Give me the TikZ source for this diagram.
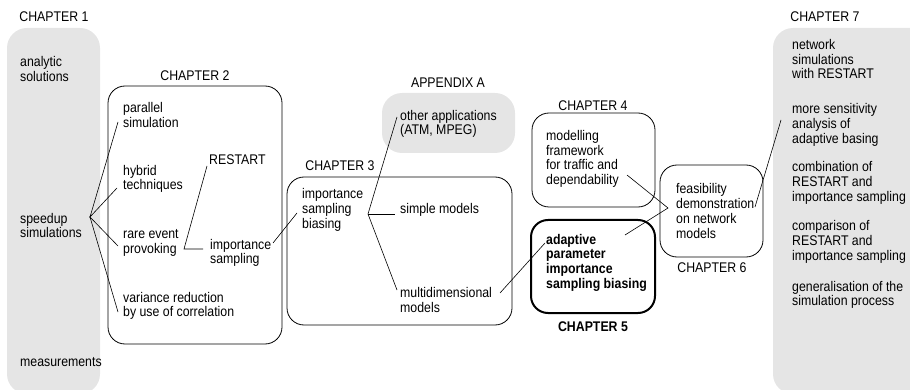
\documentclass[tikz,border=0pt]{standalone}
\usepackage{fontspec}
\setmainfont{Liberation Sans}[FakeStretch=0.88]
\begin{document}
\begin{tikzpicture}[x=1pt,y=-1pt,
  txt/.style={font=\fontsize{14}{14.7}\selectfont, align=left, anchor=west, inner sep=0pt},
  btxt/.style={txt, font=\fontsize{14}{14.7}\selectfont\bfseries},
  lbl/.style={font=\fontsize{14}{14.7}\selectfont, inner sep=0pt},
  blbl/.style={lbl, font=\fontsize{14}{14.7}\selectfont\bfseries},
  chbox/.style={draw=black, line width=0.8pt, rounded corners=17pt},
  thickbox/.style={draw=black, line width=2pt, rounded corners=17pt},
  graybox/.style={fill=black!10, rounded corners=20pt},
  conn/.style={draw=black, line width=0.6pt}]
\useasboundingbox (0,0) rectangle (910,390);

% ---------- Chapter 1
\fill[graybox] (7,28) rectangle (100,394);
\node[lbl] (c1) at (54,17) {CHAPTER 1};
\node[txt] (analytic) at (20,69) {analytic\\solutions};
\node[txt] (speedup) at (20,225.5) {speedup\\simulations};
\node[txt] (meas) at (20,362) {measurements};

% ---------- Chapter 2
\draw[chbox] (108,86) rectangle (282,344);
\node[lbl] (c2) at (195,76) {CHAPTER 2};
\node[txt] (par) at (123,115) {parallel\\simulation};
\node[txt] (hyb) at (123,179) {hybrid\\techniques};
\node[txt] (restart) at (209,160) {RESTART};
\node[txt] (rare) at (123,243) {rare event\\provoking};
\node[txt] (impS) at (210,253) {importance\\sampling};
\node[txt] (var) at (123,306) {variance reduction\\by use of correlation};

\coordinate (J1) at (90,217);
\coordinate (parE) at (118,122);
\coordinate (hybE) at (117,188);
\coordinate (rareE) at (118,246);
\coordinate (varE) at (118,312);
\draw[conn] (parE) -- (J1) -- (hybE);
\draw[conn] (rareE) -- (J1) -- (varE);

\coordinate (J2) at (184,249);
\coordinate (restartE) at (207,166);
\coordinate (impSE) at (203,249);
\draw[conn] (restartE) -- (J2) -- (impSE);

% ---------- Appendix A
\fill[graybox] (382,93) rectangle (515,153);
\node[lbl] (ca) at (448,83) {APPENDIX A};
\node[txt] (other) at (400,124) {other applications\\(ATM, MPEG)};

% ---------- Chapter 3
\draw[chbox] (287,177) rectangle (512,325);
\node[lbl] (c3) at (340,166) {CHAPTER 3};
\node[txt] (isb) at (302,210) {importance\\sampling\\biasing};
\node[txt] (simple) at (400,210) {simple models};
\node[txt] (multi) at (400,300) {multidimensional\\models};

\coordinate (impSR) at (273,243);
\coordinate (isbL) at (297,213);
\draw[conn] (impSR) -- (isbL);

\coordinate (J3) at (368,214);
\coordinate (otherE) at (397,117);
\coordinate (simpleE) at (395,214);
\coordinate (multiE) at (397,290);
\draw[conn] (otherE) -- (J3) -- (multiE);
\draw[conn] (J3) -- (simpleE);

% ---------- Chapter 4
\draw[chbox] (532,113) rectangle (655,207);
\node[lbl] (c4) at (593,106) {CHAPTER 4};
\node[txt] (model) at (546,159) {modelling\\framework\\for traffic and\\dependability};

% ---------- Chapter 5
\draw[thickbox] (531,220) rectangle (655,313);
\node[blbl] (c5) at (593,327) {CHAPTER 5};
\node[btxt] (adapt) at (546,262.5) {adaptive\\parameter\\importance\\sampling biasing};

\coordinate (multiR) at (500,293);
\coordinate (adaptL) at (545,243);
\draw[conn] (multiR) -- (adaptL);

% ---------- Chapter 6
\draw[chbox] (660,165) rectangle (763,257);
\node[lbl] (c6) at (712,268) {CHAPTER 6};
\node[txt] (feas) at (676,211) {feasibility\\demonstration\\on network\\models};

\coordinate (J6) at (668,208);
\coordinate (modelE) at (627,175);
\coordinate (adaptE) at (625,235);
\draw[conn] (modelE) -- (J6) -- (adaptE);

% ---------- Chapter 7
\fill[graybox] (773,28) rectangle (930,394);
\node[lbl] (c7) at (825,17) {CHAPTER 7};
\node[txt] (n1) at (792,59) {network\\simulations\\with RESTART};
\node[txt] (n2) at (792,125) {more sensitivity\\analysis of\\adaptive basing};
\node[txt] (n3) at (792,183) {combination of\\RESTART and\\importance sampling};
\node[txt] (n4) at (792,242) {comparison of\\RESTART and\\importance sampling};
\node[txt] (n5) at (792,295) {generalisation of the\\simulation process};

\coordinate (feasR) at (755,207);
\coordinate (n2L) at (781,120);
\draw[conn] (feasR) -- (n2L);
\end{tikzpicture}
\end{document}
